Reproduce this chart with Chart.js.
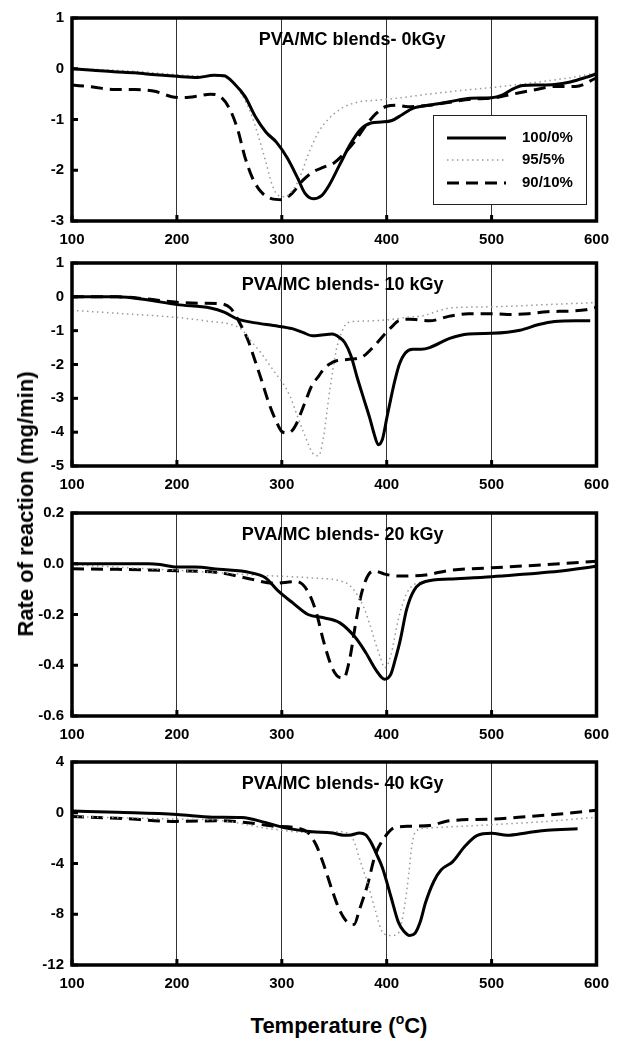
<!DOCTYPE html>
<html><head><meta charset="utf-8">
<script src="https://cdn.jsdelivr.net/npm/chart.js@4.4.0/dist/chart.umd.min.js"></script>
<style>
html,body{margin:0;padding:0;background:#fff}
body{width:619px;height:1045px;position:relative;overflow:hidden;font-family:"Liberation Sans",Arial,sans-serif}
.p{position:absolute;left:0;width:619px;height:250px}
#ytitle{position:absolute;left:26px;top:504px;transform:translate(-50%,-50%) rotate(-90deg);font-weight:bold;font-size:22px;white-space:nowrap;color:#000}
#xtitle{position:absolute;left:339px;top:1026px;transform:translate(-50%,-50%);font-weight:bold;font-size:22px;white-space:nowrap;color:#000}
#xtitle sup{font-size:14px;vertical-align:9px;line-height:0}
</style></head>
<body>
<div class="p" style="top:1px"><canvas id="c1"></canvas></div>
<div class="p" style="top:246px"><canvas id="c2"></canvas></div>
<div class="p" style="top:496px"><canvas id="c3"></canvas></div>
<div class="p" style="top:745px"><canvas id="c4"></canvas></div>
<div id="ytitle">Rate of reaction (mg/min)</div>
<div id="xtitle">Temperature (<sup>o</sup>C)</div>
<script>
// ---------- DATA ----------
const seriesNames = ["100/0%", "95/5%", "90/10%"];
const panelTitles = ["PVA/MC blends- 0kGy", "PVA/MC blends- 10 kGy", "PVA/MC blends- 20 kGy", "PVA/MC blends- 40 kGy"];
const xTicks = [100, 200, 300, 400, 500, 600];

// Panel 1: 0 kGy
const p1T_100 = [100,120,140,160,180,200,220,235,245,255,265,275,285,295,305,315,322,330,338,345,355,365,375,385,395,405,415,425,440,460,480,500,510,520,530,545,560,575,590,600];
const p1V_100 = [0,-0.03,-0.06,-0.08,-0.12,-0.15,-0.17,-0.13,-0.14,-0.3,-0.55,-0.95,-1.25,-1.45,-1.75,-2.15,-2.45,-2.56,-2.5,-2.3,-1.9,-1.5,-1.2,-1.07,-1.05,-1.02,-0.9,-0.78,-0.72,-0.65,-0.58,-0.57,-0.52,-0.4,-0.33,-0.32,-0.31,-0.26,-0.17,-0.1];
const p1T_95 = [100,130,160,190,220,240,250,260,270,278,285,291,297,303,310,317,325,335,345,357,372,390,410,440,470,500,530,560,580,600];
const p1V_95 = [0,-0.02,-0.05,-0.1,-0.14,-0.15,-0.22,-0.45,-0.85,-1.35,-1.85,-2.3,-2.5,-2.52,-2.4,-2.15,-1.7,-1.25,-0.98,-0.78,-0.66,-0.62,-0.58,-0.5,-0.43,-0.37,-0.3,-0.22,-0.16,-0.08];
const p1T_90 = [100,120,140,160,180,195,205,220,232,240,250,258,265,272,280,290,300,310,320,330,340,350,360,370,380,390,400,410,420,440,460,480,500,520,540,560,580,600];
const p1V_90 = [-0.32,-0.36,-0.41,-0.41,-0.45,-0.55,-0.57,-0.54,-0.5,-0.53,-0.78,-1.2,-1.75,-2.15,-2.42,-2.56,-2.58,-2.45,-2.2,-2.03,-1.94,-1.85,-1.66,-1.42,-1.12,-0.88,-0.74,-0.72,-0.75,-0.72,-0.66,-0.6,-0.58,-0.5,-0.42,-0.35,-0.35,-0.18];

// Panel 2: 10 kGy
const p2T_100 = [100,143,170,200,232,245,258,275,292,310,320,329,340,348,355,360,366,372,378,384,388,392,396,400,404,408,412,418,425,433,441,460,478,500,515,527,545,560,580,594];
const p2V_100 = [0,0,-0.08,-0.23,-0.33,-0.45,-0.66,-0.77,-0.85,-0.94,-1.05,-1.15,-1.12,-1.1,-1.2,-1.35,-1.75,-2.4,-3.0,-3.6,-4.05,-4.37,-4.2,-3.6,-3.0,-2.45,-2.0,-1.65,-1.55,-1.55,-1.5,-1.23,-1.1,-1.08,-1.05,-0.99,-0.82,-0.73,-0.71,-0.71];
const p2T_95 = [100,150,200,230,255,263,270,280,288,295,300,308,314,322,329,335,340,343,346,349,352,357,363,375,385,400,407,420,433,446,460,490,515,560,600];
const p2V_95 = [-0.4,-0.5,-0.61,-0.72,-0.85,-1.0,-1.28,-1.65,-2.0,-2.3,-2.5,-2.95,-3.45,-4.1,-4.6,-4.7,-4.1,-3.4,-2.7,-2.1,-1.56,-1.05,-0.76,-0.72,-0.71,-0.68,-0.66,-0.6,-0.57,-0.45,-0.33,-0.3,-0.28,-0.22,-0.17];
const p2T_90 = [100,143,170,200,225,240,251,256,262,268,273,280,288,295,300,305,309,314,318,323,329,335,340,346,352,360,366,372,378,389,400,406,411,422,430,441,460,478,500,515,535,553,575,590,600];
const p2V_90 = [0,0,-0.06,-0.16,-0.19,-0.2,-0.33,-0.55,-0.9,-1.3,-1.75,-2.4,-3.17,-3.7,-3.98,-4.02,-3.98,-3.75,-3.45,-3.05,-2.6,-2.35,-2.13,-1.98,-1.89,-1.86,-1.84,-1.82,-1.75,-1.42,-1.04,-0.85,-0.71,-0.66,-0.68,-0.71,-0.57,-0.5,-0.5,-0.52,-0.5,-0.44,-0.42,-0.38,-0.31];

// Panel 3: 20 kGy
const p3T_100 = [100,150,173,184,200,217,240,270,284,296,311,325,340,355,370,380,390,398,404,408,413,419,426,437,460,500,534,564,600];
const p3V_100 = [0,0,0,-0.003,-0.013,-0.013,-0.022,-0.035,-0.054,-0.105,-0.156,-0.2,-0.213,-0.232,-0.29,-0.35,-0.42,-0.455,-0.435,-0.38,-0.3,-0.18,-0.105,-0.07,-0.06,-0.051,-0.04,-0.03,-0.01];
const p3T_95 = [100,150,200,240,270,292,329,355,366,378,384,389,394,398,404,411,419,430,460,500,560,600];
const p3V_95 = [-0.003,-0.015,-0.026,-0.035,-0.044,-0.048,-0.056,-0.067,-0.09,-0.17,-0.24,-0.308,-0.37,-0.41,-0.36,-0.22,-0.117,-0.075,-0.062,-0.05,-0.03,-0.01];
const p3T_90 = [100,143,200,240,270,292,314,325,333,340,348,355,359,365,370,376,383,389,398,411,437,460,500,553,600];
const p3V_90 = [-0.02,-0.022,-0.028,-0.035,-0.06,-0.077,-0.07,-0.11,-0.194,-0.308,-0.41,-0.448,-0.45,-0.37,-0.245,-0.117,-0.041,-0.029,-0.041,-0.048,-0.044,-0.026,-0.016,-0.003,0.01];

// Panel 4: 40 kGy
const p4T_100 = [100,143,200,234,262,284,303,329,348,359,366,374,380,385,390,396,404,411,416,422,427,432,437,445,452,463,474,486,500,515,534,553,582];
const p4V_100 = [0.13,0.03,-0.13,-0.35,-0.38,-0.76,-1.19,-1.5,-1.6,-1.77,-1.75,-1.6,-1.75,-2.33,-3.2,-4.35,-6.6,-8.6,-9.3,-9.67,-9.5,-8.6,-7.1,-5.4,-4.5,-3.85,-2.7,-1.8,-1.62,-1.77,-1.57,-1.37,-1.27];
const p4T_95 = [100,200,240,292,329,355,366,370,374,382,389,396,404,411,417,421,424,428,441,500,553,600];
const p4V_95 = [-0.3,-0.5,-0.6,-1.3,-1.57,-1.5,-1.82,-2.5,-3.6,-5.6,-7.65,-9.4,-9.67,-9.5,-7.4,-4.86,-2.58,-1.44,-1.19,-0.94,-0.68,-0.35];
const p4T_90 = [100,143,200,240,270,292,314,325,333,340,348,355,363,369,374,382,389,398,407,422,441,460,500,534,571,600];
const p4V_90 = [-0.3,-0.43,-0.68,-0.63,-0.81,-1.06,-1.19,-1.57,-2.58,-4.1,-6.1,-7.65,-8.66,-8.8,-7.65,-5.6,-3.35,-1.95,-1.19,-1.06,-1.0,-0.63,-0.5,-0.3,-0.05,0.2];

// y axis ranges
const yRanges = [[-3, 1, 1], [-5, 1, 1], [-0.6, 0.2, 0.2], [-12, 4, 4]];
const yDecimals = [0, 0, 1, 0];

// ---------- RENDERING ----------
const FONT = '"Liberation Sans", Arial, sans-serif';
const styles = [
  {borderColor:'#000', borderWidth:3, borderDash:[]},
  {borderColor:'#9a9a9a', borderWidth:1.5, borderDash:[1.5,3.5]},
  {borderColor:'#000', borderWidth:3, borderDash:[12,7]}
];
function pts(t, v){ return t.map((x,i)=>({x:x, y:v[i]})); }

const framePlugin = {
  id:'frame',
  afterDatasetsDraw(chart, args, opts){
    const {ctx, chartArea:a, scales} = chart;
    ctx.save();
    ctx.strokeStyle='#000'; ctx.lineWidth=3; ctx.setLineDash([]);
    scales.y.ticks.forEach(t=>{
      const y=scales.y.getPixelForValue(t.value);
      ctx.beginPath(); ctx.moveTo(a.left,y); ctx.lineTo(a.left+6,y); ctx.stroke();
    });
    scales.x.ticks.forEach(t=>{
      const x=scales.x.getPixelForValue(t.value);
      ctx.beginPath(); ctx.moveTo(x,a.bottom); ctx.lineTo(x,a.bottom-6); ctx.stroke();
    });
    ctx.lineWidth=3.5;
    ctx.strokeRect(a.left,a.top,a.right-a.left,a.bottom-a.top);
    ctx.fillStyle='#000';
    ctx.font='bold 18px '+FONT;
    ctx.textAlign='center'; ctx.textBaseline='middle';
    ctx.fillText(opts.text, scales.x.getPixelForValue(opts.tx), a.top+22);
    if (opts.legend) {
      const L=a.left+361, T=a.top+97, W=153, H=89;
      ctx.fillStyle='#fff'; ctx.fillRect(L,T,W,H);
      ctx.lineWidth=1; ctx.strokeStyle='#222'; ctx.strokeRect(L+0.5,T+0.5,W,H);
      const rows=[T+23,T+45,T+68];
      chart.data.datasets.forEach((ds,i)=>{
        ctx.strokeStyle=ds.borderColor; ctx.lineWidth=ds.borderWidth; ctx.setLineDash(ds.borderDash||[]);
        ctx.beginPath(); ctx.moveTo(L+14,rows[i]); ctx.lineTo(L+73,rows[i]); ctx.stroke();
        ctx.setLineDash([]);
        ctx.fillStyle='#000'; ctx.font='bold 15px '+FONT; ctx.textAlign='left';
        ctx.fillText(ds.label, L+89, rows[i]);
      });
    }
    ctx.restore();
  }
};

function makePanel(id, idx, T, V, tx, legend){
  const [ymin,ymax,ystep]=yRanges[idx];
  new Chart(document.getElementById(id), {
    type:'line',
    data:{datasets:[0,1,2].map(k=>Object.assign({
      label:seriesNames[k], data:pts(T[k],V[k]), pointRadius:0, fill:false,
      cubicInterpolationMode:'monotone', borderCapStyle:'butt'
    }, styles[k]))},
    options:{
      responsive:true, maintainAspectRatio:false, animation:false,
      layout:{padding:{top:10,right:16,left:0,bottom:0}},
      plugins:{legend:{display:false}, tooltip:{enabled:false}, frame:{text:panelTitles[idx], tx:tx, legend:legend}},
      scales:{
        x:{type:'linear', min:xTicks[0], max:xTicks[xTicks.length-1],
           afterFit(s){s.height=30;},
           afterBuildTicks(s){ s.ticks = xTicks.map(v=>({value:v})); },
           ticks:{padding:10, color:'#000', font:{family:FONT, size:15, weight:'bold'}, maxRotation:0},
           grid:{drawTicks:false, lineWidth:1,
             color:c=>(c.tick && (c.tick.value===100||c.tick.value===600))?'rgba(0,0,0,0)':'#333'},
           border:{display:false}},
        y:{min:ymin, max:ymax,
           afterFit(s){s.width=72;},
           ticks:{stepSize:ystep, padding:8, color:'#000', font:{family:FONT, size:15, weight:'bold'},
             callback:v=>Number(v).toFixed(yDecimals[idx])},
           grid:{display:false, drawTicks:false},
           border:{display:false}}
      }
    },
    plugins:[framePlugin]
  });
}

makePanel('c1',0,[p1T_100,p1T_95,p1T_90],[p1V_100,p1V_95,p1V_90],367,true);
makePanel('c2',1,[p2T_100,p2T_95,p2T_90],[p2V_100,p2V_95,p2V_90],358,false);
makePanel('c3',2,[p3T_100,p3T_95,p3T_90],[p3V_100,p3V_95,p3V_90],358,false);
makePanel('c4',3,[p4T_100,p4T_95,p4T_90],[p4V_100,p4V_95,p4V_90],358,false);
</script>
</body></html>
